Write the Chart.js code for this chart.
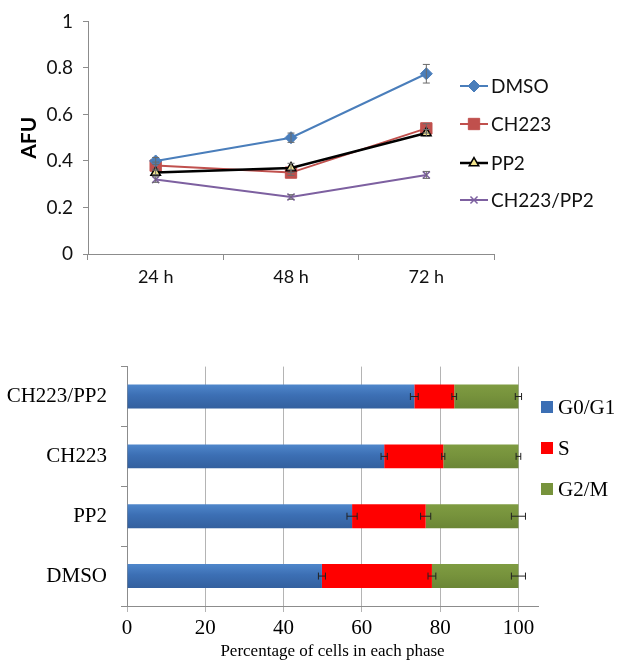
<!DOCTYPE html>
<html>
<head>
<meta charset="utf-8">
<script src="https://cdn.jsdelivr.net/npm/chart.js@4/dist/chart.umd.min.js"></script>
<style>
  html, body { margin: 0; padding: 0; background: #ffffff; }
  #top { position: absolute; left: 0; top: 0; width: 625px; height: 300px; }
  #bottom { position: absolute; left: 0; top: 340px; width: 625px; height: 324px; }
</style>
</head>
<body>
<div id="top"><canvas id="c1" width="625" height="300"></canvas></div>
<div id="bottom"><canvas id="c2" width="625" height="324"></canvas></div>
<script>
// ---- Top chart data (AFU over time) ----
const timeLabels = ['24 h', '48 h', '72 h'];
const afuDMSO = [0.40, 0.50, 0.775];
const afuCH223 = [0.38, 0.35, 0.54];
const afuPP2 = [0.35, 0.37, 0.52];
const afuCombo = [0.32, 0.245, 0.34];
const errDMSO = [0.015, 0.02, 0.04];
const errCH223 = [0.015, 0.012, 0.02];
const errPP2 = [0.01, 0.02, 0.015];
const errCombo = [0.012, 0.01, 0.015];
const afuTicks = [0, 0.2, 0.4, 0.6, 0.8, 1];

// ---- Bottom chart data (cell cycle phases) ----
const groups = ['CH223/PP2', 'CH223', 'PP2', 'DMSO'];
const phaseG0G1 = [73.4, 65.7, 57.5, 49.8];
const phaseS = [10.2, 15.1, 18.8, 28.1];
const phaseG2M = [16.4, 19.2, 23.7, 22.1];
const errG0G1 = [1.0, 0.8, 1.3, 0.9];
const errS = [0.6, 0.4, 1.3, 1.0];
const errG2M = [0.8, 0.6, 1.8, 1.8];
const pctTicks = [0, 20, 40, 60, 80, 100];

const sans = 'Lato, "Open Sans", sans-serif';
const serif = '"Liberation Serif", "DejaVu Serif", serif';
const axisGray = '#8c8c8c';

// error bars plugin for the line chart
const lineErrPlugin = {
  id: 'lineErr',
  afterDatasetsDraw(chart) {
    const ctx = chart.ctx;
    const xs = chart.scales.x, ys = chart.scales.y;
    ctx.save();
    ctx.strokeStyle = '#6a6a6a';
    ctx.lineWidth = 1;
    chart.data.datasets.forEach(ds => {
      ds.data.forEach((v, i) => {
        const e = ds.errors[i];
        const x = xs.getPixelForValue(i);
        const y1 = ys.getPixelForValue(v + e), y2 = ys.getPixelForValue(v - e);
        ctx.beginPath();
        ctx.moveTo(x, y1); ctx.lineTo(x, y2);
        ctx.moveTo(x - 3.5, y1); ctx.lineTo(x + 3.5, y1);
        ctx.moveTo(x - 3.5, y2); ctx.lineTo(x + 3.5, y2);
        ctx.stroke();
      });
    });
    ctx.restore();
  }
};

// custom legend for the line chart (line + marker + text)
const lineLegendPlugin = {
  id: 'lineLegend',
  afterDraw(chart) {
    const ctx = chart.ctx;
    const x0 = 460, x1 = 488, ys = [86, 124, 163, 200];
    ctx.save();
    chart.data.datasets.forEach((ds, k) => {
      const y = ys[k];
      ctx.strokeStyle = ds.borderColor;
      ctx.lineWidth = ds.borderWidth;
      ctx.beginPath(); ctx.moveTo(x0, y); ctx.lineTo(x1, y); ctx.stroke();
      ctx.fillStyle = ds.pointBackgroundColor;
      ctx.strokeStyle = ds.pointBorderColor;
      ctx.lineWidth = ds.pointBorderWidth || 1;
      Chart.helpers.drawPoint(ctx, {
        pointStyle: ds.pointStyle, radius: ds.pointRadius, borderWidth: ds.pointBorderWidth || 1, rotation: 0
      }, (x0 + x1) / 2, y);
      ctx.fillStyle = '#111';
      ctx.font = '19px ' + sans;
      ctx.textBaseline = 'middle';
      ctx.textAlign = 'left';
      ctx.fillText(ds.label, x1 + 3, y + 1);
    });
    ctx.restore();
  }
};

new Chart(document.getElementById('c1'), {
  type: 'line',
  data: {
    labels: timeLabels,
    datasets: [
      { label: 'DMSO', data: afuDMSO, errors: errDMSO, borderColor: '#4a7ebb', borderWidth: 2, order: 1,
        pointStyle: 'rectRot', pointRadius: 6, pointBackgroundColor: '#4a7ebb', pointBorderColor: '#4a7ebb', pointBorderWidth: 1 },
      { label: 'CH223', data: afuCH223, errors: errCH223, borderColor: '#c0504d', borderWidth: 2, order: 2,
        pointStyle: 'rect', pointRadius: 8, pointBackgroundColor: '#c0504d', pointBorderColor: '#c0504d', pointBorderWidth: 1 },
      { label: 'PP2', data: afuPP2, errors: errPP2, borderColor: '#000000', borderWidth: 2.5, order: 0,
        pointStyle: 'triangle', pointRadius: 5.5, pointBackgroundColor: '#f3e58f', pointBorderColor: '#000000', pointBorderWidth: 1.5 },
      { label: 'CH223/PP2', data: afuCombo, errors: errCombo, borderColor: '#7d60a0', borderWidth: 2, order: 3,
        pointStyle: 'crossRot', pointRadius: 5, pointBackgroundColor: '#7d60a0', pointBorderColor: '#7d60a0', pointBorderWidth: 1.5 }
    ]
  },
  options: {
    responsive: false,
    animation: false,
    devicePixelRatio: 1,
    layout: { padding: { left: 0, right: 131, top: 11, bottom: 0 } },
    plugins: { legend: { display: false }, tooltip: { enabled: false } },
    elements: { line: { tension: 0 } },
    scales: {
      x: {
        offset: true,
        grid: { display: true, drawOnChartArea: false, offset: true, tickLength: 6, color: axisGray },
        border: { color: axisGray, width: 1 },
        ticks: { color: '#111', font: { family: sans, size: 18 }, padding: 6 },
        afterFit(s) { s.height = 46; }
      },
      y: {
        min: 0, max: 1,
        afterBuildTicks(s) { s.ticks = afuTicks.map(v => ({ value: v })); },
        grid: { display: true, drawOnChartArea: false, tickLength: 5, color: axisGray },
        border: { color: axisGray, width: 1 },
        ticks: { color: '#111', font: { family: sans, size: 19 }, padding: 10, callback: v => String(v) },
        title: { display: true, text: 'AFU', color: '#000', font: { family: sans, size: 21, weight: 'bold' }, padding: { top: 17, bottom: 0 } },
        afterFit(s) { s.width = 88; }
      }
    }
  },
  plugins: [lineErrPlugin, lineLegendPlugin]
});

// error bars for the stacked horizontal bars
const barErrPlugin = {
  id: 'barErr',
  afterDatasetsDraw(chart) {
    const ctx = chart.ctx;
    const xs = chart.scales.x, ys = chart.scales.y;
    ctx.save();
    ctx.strokeStyle = '#222';
    ctx.lineWidth = 1;
    groups.forEach((g, j) => {
      let cum = 0;
      chart.data.datasets.forEach(ds => {
        cum += ds.data[j];
        const e = ds.errors[j];
        const y = ys.getPixelForValue(j);
        const xa = xs.getPixelForValue(cum - e), xb = xs.getPixelForValue(cum + e);
        ctx.beginPath();
        ctx.moveTo(xa, y); ctx.lineTo(xb, y);
        ctx.moveTo(xa, y - 3.5); ctx.lineTo(xa, y + 3.5);
        ctx.moveTo(xb, y - 3.5); ctx.lineTo(xb, y + 3.5);
        ctx.stroke();
      });
    });
    ctx.restore();
  }
};

const barLegendPlugin = {
  id: 'barLegend',
  afterDraw(chart) {
    const ctx = chart.ctx;
    const ys = [67, 108, 149];
    const cols = ['#3c6fb4', '#ff0000', '#77933c'];
    ctx.save();
    chart.data.datasets.forEach((ds, k) => {
      const y = ys[k];
      ctx.fillStyle = cols[k];
      ctx.fillRect(541, y - 6, 12, 12);
      ctx.fillStyle = '#000';
      ctx.font = '21px ' + serif;
      ctx.textBaseline = 'middle';
      ctx.textAlign = 'left';
      ctx.fillText(ds.label, 558, y + 1);
    });
    ctx.restore();
  }
};

// vertical gradient for a bar (Excel 2007 style shading)
function barGradient(top, mid, bottom) {
  return function (context) {
    const chart = context.chart;
    const ys = chart.scales && chart.scales.y;
    if (!ys || context.dataIndex === undefined || !chart.chartArea) return mid;
    const cy = ys.getPixelForValue(context.dataIndex);
    const half = 12.5;
    const g = chart.ctx.createLinearGradient(0, cy - half, 0, cy + half);
    g.addColorStop(0, top);
    g.addColorStop(0.45, mid);
    g.addColorStop(1, bottom);
    return g;
  };
}

new Chart(document.getElementById('c2'), {
  type: 'bar',
  data: {
    labels: groups,
    datasets: [
      { label: 'G0/G1', data: phaseG0G1, errors: errG0G1, backgroundColor: barGradient('#5088cc', '#3c6fb4', '#335f9d') },
      { label: 'S', data: phaseS, errors: errS, backgroundColor: '#ff0000' },
      { label: 'G2/M', data: phaseG2M, errors: errG2M, backgroundColor: barGradient('#7f9c42', '#77933c', '#6a8535') }
    ]
  },
  options: {
    indexAxis: 'y',
    responsive: false,
    animation: false,
    devicePixelRatio: 1,
    layout: { padding: { left: 0, right: 87, top: 16, bottom: 0 } },
    plugins: { legend: { display: false }, tooltip: { enabled: false } },
    datasets: { bar: { categoryPercentage: 1, barPercentage: 0.4 } },
    scales: {
      x: {
        stacked: true, min: 0, max: 105,
        afterBuildTicks(s) { s.ticks = pctTicks.map(v => ({ value: v })); },
        grid: { display: true, drawOnChartArea: true, tickLength: 6, color: '#b4b4b4' },
        border: { color: axisGray, width: 1 },
        ticks: { color: '#000', font: { family: serif, size: 21 }, padding: 4 },
        title: { display: true, text: 'Percentage of cells in each phase', color: '#000', font: { family: serif, size: 17 }, padding: { top: 0, bottom: 2 } },
        afterFit(s) { s.height = 58; }
      },
      y: {
        stacked: true,
        offset: true,
        grid: { display: true, drawOnChartArea: false, offset: true, tickLength: 6, color: axisGray },
        border: { color: axisGray, width: 1 },
        ticks: { color: '#000', font: { family: serif, size: 21 }, padding: 14 },
        afterFit(s) { s.width = 127; }
      }
    }
  },
  plugins: [barErrPlugin, barLegendPlugin]
});
</script>
</body>
</html>
